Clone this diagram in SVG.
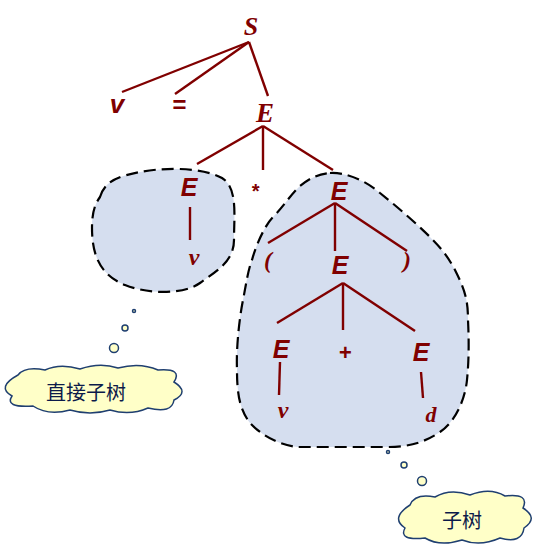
<svg xmlns="http://www.w3.org/2000/svg" width="539" height="547" viewBox="0 0 539 547">
<style>
.blob{fill:#d5deef;stroke:#000;stroke-width:2.2;stroke-dasharray:12 6}
.cloud{fill:#ffffc8;stroke:#1f3f70;stroke-width:1.5}
.edge{stroke:#800000;stroke-width:2.4;fill:none}
.ser{font-family:"Liberation Serif",serif;font-style:italic;font-weight:bold;fill:#800000;text-anchor:middle}
.san{font-family:"Liberation Sans",sans-serif;font-style:italic;font-weight:bold;fill:#800000;text-anchor:middle}
.cj{font-family:"Noto Sans CJK SC",sans-serif;fill:#0c1a4a;text-anchor:middle;font-size:20px}
</style>
<rect width="539" height="547" fill="#fff"/>
<g id="subtree-left"><path class="blob" d="M100,197 C105,180 120,176 140,172 C160,168 200,166 222,178 C238,188 234,215 234,240 C234,262 215,272 200,283 C185,294 150,295 125,285 C100,275 92,255 92,228 C92,212 95,204 100,197 Z"/></g>
<g id="subtree-right"><path class="blob" d="M330,173 C345,172 365,180 380,193 C395,205 415,222 430,237 C440,247 447,255 455,270 C465,290 468,300 468,320 C469,340 469,360 467,380 C465,400 455,422 440,432 C425,442 410,447 387,447 L297,447 C280,445 262,436 250,423 C240,410 237,395 237,370 C236,345 240,315 243,300 C246,285 248,270 252,260 C256,245 265,225 273,217 C285,205 290,195 300,186 C310,178 318,174 330,173 Z"/></g>
<g id="edges">
<line class="edge" x1="249" y1="42" x2="122" y2="92"/>
<line class="edge" x1="249" y1="42" x2="175" y2="94"/>
<line class="edge" x1="249" y1="42" x2="268" y2="96"/>
<line class="edge" x1="263" y1="126" x2="197" y2="164"/>
<line class="edge" x1="263" y1="126" x2="263" y2="170"/>
<line class="edge" x1="263" y1="126" x2="333" y2="170"/>
<line class="edge" x1="190" y1="207" x2="190" y2="240"/>
<line class="edge" x1="335" y1="203" x2="268" y2="243"/>
<line class="edge" x1="335" y1="203" x2="335" y2="251"/>
<line class="edge" x1="335" y1="203" x2="407" y2="251"/>
<line class="edge" x1="343" y1="283" x2="277" y2="323"/>
<line class="edge" x1="343" y1="283" x2="343" y2="330"/>
<line class="edge" x1="343" y1="283" x2="415" y2="331"/>
<line class="edge" x1="280" y1="362" x2="279" y2="395"/>
<line class="edge" x1="421" y1="372" x2="423" y2="398"/>
</g>
<g id="n-S"><text class="ser" x="251" y="35" font-size="26">S</text></g>
<g id="n-v1"><text class="san" x="117" y="113" font-size="26">v</text></g>
<g id="n-eq"><text class="san" x="179" y="113" font-size="24" font-style="normal">=</text></g>
<g id="n-E1"><text class="ser" x="265" y="122" font-size="27">E</text></g>
<g id="n-E2"><text class="san" x="189" y="196" font-size="25">E</text></g>
<g id="n-star"><text class="san" x="255" y="198" font-size="20" font-style="normal">*</text></g>
<g id="n-E3"><text class="san" x="339" y="200" font-size="25">E</text></g>
<g id="n-v2"><text class="ser" x="194" y="265" font-size="24">v</text></g>
<g id="n-lp"><text class="ser" x="268" y="268" font-size="24">(</text></g>
<g id="n-E4"><text class="san" x="340" y="274" font-size="25">E</text></g>
<g id="n-rp"><text class="ser" x="407" y="268" font-size="24">)</text></g>
<g id="n-E5"><text class="san" x="281" y="358" font-size="25">E</text></g>
<g id="n-plus"><text class="san" x="345" y="360" font-size="22" font-style="normal">+</text></g>
<g id="n-E6"><text class="san" x="421" y="361" font-size="25">E</text></g>
<g id="n-v3"><text class="ser" x="283" y="418" font-size="24">v</text></g>
<g id="n-d"><text class="ser" x="431" y="422" font-size="22">d</text></g>
<g id="callout-left">
<circle class="cloud" cx="134" cy="311" r="1.5"/>
<circle class="cloud" cx="125" cy="328" r="3"/>
<circle class="cloud" cx="114" cy="348" r="4.5"/>
<path class="cloud" d="M18,375 Q25,366 45,370 Q60,363 80,369 Q100,362 118,368 Q140,362 158,370 Q183,368 174,382 Q190,392 174,400 Q172,414 148,408 Q130,416 110,410 Q90,416 70,410 Q48,416 33,406 Q4,408 12,396 Q-4,387 18,375 Z"/>
<text class="cj" x="86" y="400">直接子树</text>
</g>
<g id="callout-right">
<circle class="cloud" cx="388" cy="452" r="1.5"/>
<circle class="cloud" cx="404" cy="465" r="3"/>
<circle class="cloud" cx="422" cy="481" r="4.5"/>
<path class="cloud" d="M410,505 Q415,493 435,497 Q450,488 470,495 Q490,487 505,496 Q530,493 523,508 Q539,518 524,528 Q522,544 500,538 Q480,547 462,540 Q440,547 425,538 Q398,541 405,528 Q390,518 410,505 Z"/>
<text class="cj" x="462" y="528">子树</text>
</g>
</svg>
